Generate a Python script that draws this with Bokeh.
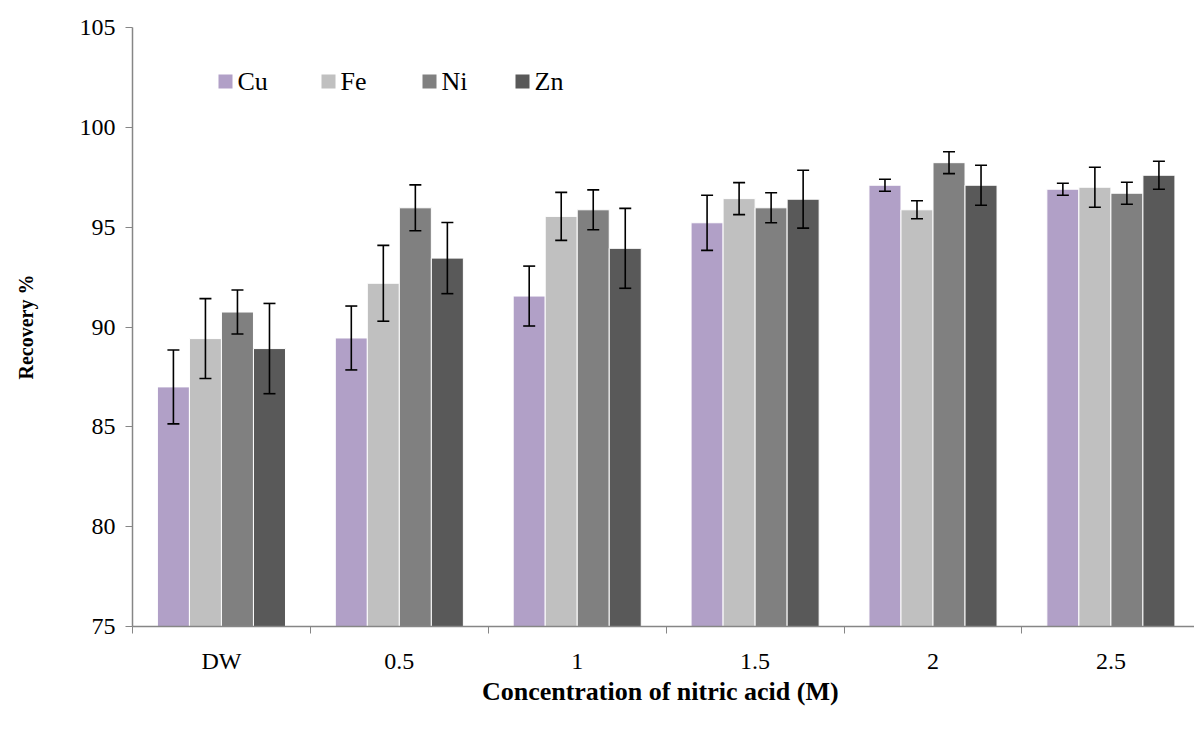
from bokeh.plotting import figure
from bokeh.models import Range1d, FixedTicker, ColumnDataSource, Whisker, TeeHead, Label, BoxAnnotation
from bokeh.embed import file_html
from bokeh.resources import INLINE

categories = ["DW", "0.5", "1", "1.5", "2", "2.5"]
metals = ["Cu", "Fe", "Ni", "Zn"]
colors = ["#b1a0c7", "#c0c0c0", "#808080", "#595959"]

cu = [87.0, 89.45, 91.55, 95.22, 97.1, 96.9]
cu_err = [1.85, 1.6, 1.5, 1.38, 0.3, 0.3]
fe = [89.42, 92.19, 95.54, 96.43, 95.87, 97.0]
fe_err = [2.0, 1.9, 1.2, 0.8, 0.45, 1.0]
ni = [90.75, 95.97, 95.87, 95.97, 98.23, 96.7]
ni_err = [1.1, 1.15, 1.0, 0.75, 0.55, 0.55]
zn = [88.92, 93.45, 93.94, 96.4, 97.1, 97.6]
zn_err = [2.26, 1.78, 2.0, 1.45, 1.0, 0.7]

values = [cu, fe, ni, zn]
errors = [cu_err, fe_err, ni_err, zn_err]

FONT = "Liberation Serif"
bar_w = 0.18
offsets = [-0.27, -0.09, 0.09, 0.27]

p = figure(width=1194, height=729, x_range=Range1d(0, 5.97), y_range=Range1d(75, 105),
           output_backend="svg", toolbar_location=None,
           min_border_left=132, min_border_right=0, min_border_top=27, min_border_bottom=103)
p.outline_line_color = None
p.xgrid.visible = False
p.ygrid.visible = False
p.background_fill_color = "white"

for k, m in enumerate(metals):
    xs = [i + 0.5 + offsets[k] for i in range(len(categories))]
    vals = values[k]
    errs = errors[k]
    src = ColumnDataSource(dict(x=xs, top=vals,
                                upper=[v + e for v, e in zip(vals, errs)],
                                lower=[v - e for v, e in zip(vals, errs)]))
    p.vbar(x="x", top="top", bottom=75, width=bar_w, source=src,
           fill_color=colors[k], line_color="white", line_width=1)
    w = Whisker(base="x", upper="upper", lower="lower", source=src, level="annotation",
                line_color="black", line_width=1.6,
                upper_head=TeeHead(size=12, line_color="black", line_width=1.6),
                lower_head=TeeHead(size=12, line_color="black", line_width=1.6))
    p.add_layout(w)

# legend (screen units relative to the plot frame)
leg_x = [86, 189, 290, 383]
leg_y = 545
for k, m in enumerate(metals):
    p.add_layout(BoxAnnotation(left=leg_x[k], right=leg_x[k] + 14, bottom=leg_y - 7, top=leg_y + 7,
                               left_units="screen", right_units="screen",
                               bottom_units="screen", top_units="screen",
                               fill_color=colors[k], fill_alpha=1, line_color=None))
    p.add_layout(Label(x=leg_x[k] + 19, y=leg_y, x_units="screen", y_units="screen", text=m,
                       text_font=FONT, text_font_size="26px", text_color="black",
                       text_baseline="middle", text_align="left"))

# x axis
p.xaxis.ticker = FixedTicker(ticks=[i + 0.5 for i in range(len(categories))],
                             minor_ticks=list(range(0, len(categories) + 1)))
p.xaxis.major_label_overrides = {i + 0.5: c for i, c in enumerate(categories)}
p.xaxis.major_tick_line_color = None
p.xaxis.minor_tick_in = 0
p.xaxis.minor_tick_out = 7
p.xaxis.minor_tick_line_color = "#868686"
p.xaxis.axis_line_color = "#868686"
p.xaxis.axis_line_width = 1.5
p.xaxis.major_label_text_font = FONT
p.xaxis.major_label_text_font_size = "24px"
p.xaxis.major_label_text_color = "black"
p.xaxis.major_label_standoff = 14
p.xaxis.axis_label = "Concentration  of nitric acid (M)"
p.xaxis.axis_label_text_font = FONT
p.xaxis.axis_label_text_font_style = "bold"
p.xaxis.axis_label_text_font_size = "26px"
p.xaxis.axis_label_text_color = "black"
p.xaxis.axis_label_standoff = 0

# y axis
p.yaxis.ticker = FixedTicker(ticks=[75, 80, 85, 90, 95, 100, 105])
p.yaxis.minor_tick_line_color = None
p.yaxis.major_tick_in = 0
p.yaxis.major_tick_out = 7
p.yaxis.major_tick_line_color = "#868686"
p.yaxis.axis_line_color = "#868686"
p.yaxis.axis_line_width = 1.5
p.yaxis.major_label_text_font = FONT
p.yaxis.major_label_text_font_size = "24px"
p.yaxis.major_label_text_color = "black"
p.yaxis.major_label_standoff = 10
p.yaxis.axis_label = "Recovery %"
p.yaxis.axis_label_text_font = FONT
p.yaxis.axis_label_text_font_style = "bold"
p.yaxis.axis_label_text_font_size = "20px"
p.yaxis.axis_label_text_color = "black"
p.yaxis.axis_label_standoff = 40

open("out.html", "w").write(file_html(p, INLINE))
